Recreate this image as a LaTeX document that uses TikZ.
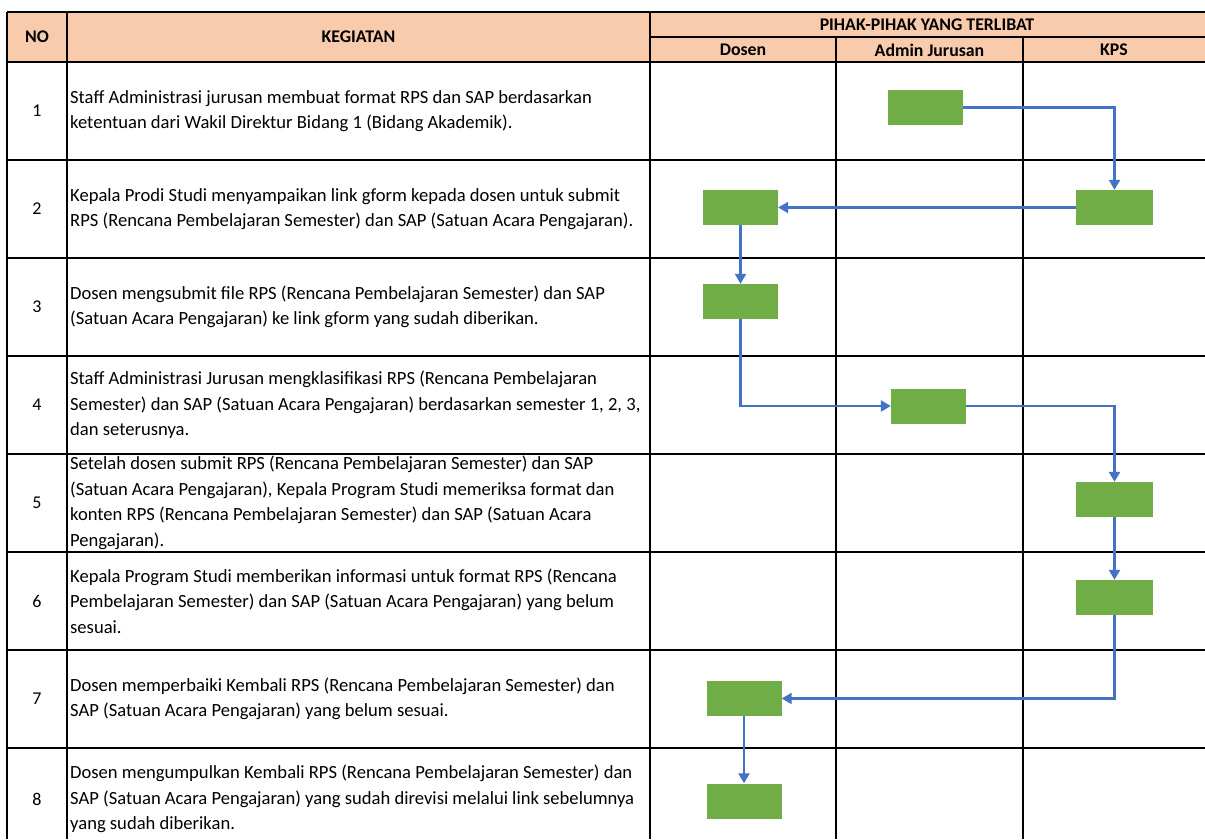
\documentclass[tikz,border=0pt]{standalone}
\usepackage{fontspec}
\setmainfont{Carlito}
\usetikzlibrary{arrows.meta}
\definecolor{hdr}{HTML}{F8CBAD}
\definecolor{boxg}{HTML}{70AD47}
\definecolor{arr}{HTML}{4472C4}
\tikzset{
  grid/.style={line width=1.6pt,black},
  hdrtxt/.style={font=\fontsize{17.8}{20}\selectfont\bfseries,inner sep=0pt},
  numtxt/.style={font=\fontsize{18}{20}\selectfont,inner sep=0pt},
  celltxt/.style={font=\fontsize{18.6}{25.5}\selectfont,inner sep=0pt,anchor=west,align=left},
  actbox/.style={fill=boxg,draw=none,minimum width=75pt,minimum height=35pt,inner sep=0pt},
  flow/.style={draw=arr,line width=2.3pt,-{Triangle[length=10pt,width=11pt]}},
}
\begin{document}
\begin{tikzpicture}[x=1pt,y=-1pt]
\useasboundingbox (0,0) rectangle (1205,839);
% header fill
\fill[hdr] (7,12) rectangle (1205,62);
% grid
\draw[grid] (7,12) -- (1205,12);
\draw[grid] (650,37) -- (1205,37);
\draw[grid] (7,62) -- (1205,62);
\foreach \y in {160,258,356,454,552,650,748} {\draw[grid] (7,\y) -- (1205,\y);}
\draw[grid] (7,12) -- (7,839);
\draw[grid] (67,12) -- (67,839);
\draw[grid] (650,12) -- (650,839);
\draw[grid] (836,37) -- (836,839);
\draw[grid] (1023,37) -- (1023,839);
% header texts
\node[hdrtxt] (hno) at (37,37) {NO};
\node[hdrtxt] (hkeg) at (358.5,37) {KEGIATAN};
\node[hdrtxt] (hpihak) at (927,24.5) {PIHAK-PIHAK YANG TERLIBAT};
\node[hdrtxt] (hdosen) at (743,50) {Dosen};
\node[hdrtxt] (hadmin) at (929.5,50) {Admin Jurusan};
\node[hdrtxt] (hkps) at (1114,50) {KPS};
% numbers
\node[numtxt] (n1) at (37,111) {1};
\node[numtxt] (n2) at (37,209) {2};
\node[numtxt] (n3) at (37,307) {3};
\node[numtxt] (n4) at (37,405) {4};
\node[numtxt] (n5) at (37,503) {5};
\node[numtxt] (n6) at (37,601) {6};
\node[numtxt] (n7) at (37,699) {7};
\node[numtxt] (n8) at (37,799) {8};
% activity texts
\node[celltxt] (t1) at (70,111) {Staff Administrasi jurusan membuat format RPS dan SAP berdasarkan\\ketentuan dari Wakil Direktur Bidang 1 (Bidang Akademik).};
\node[celltxt] (t2) at (70,209) {Kepala Prodi Studi menyampaikan link gform kepada dosen untuk submit\\RPS (Rencana Pembelajaran Semester) dan SAP (Satuan Acara Pengajaran).};
\node[celltxt] (t3) at (70,307) {Dosen mengsubmit file RPS (Rencana Pembelajaran Semester) dan SAP\\(Satuan Acara Pengajaran) ke link gform yang sudah diberikan.};
\node[celltxt] (t4) at (70,405) {Staff Administrasi Jurusan mengklasifikasi RPS (Rencana Pembelajaran\\Semester) dan SAP (Satuan Acara Pengajaran) berdasarkan semester 1, 2, 3,\\dan seterusnya.};
\node[celltxt] (t5) at (70,503) {Setelah dosen submit RPS (Rencana Pembelajaran Semester) dan SAP\\(Satuan Acara Pengajaran), Kepala Program Studi memeriksa format dan\\konten RPS (Rencana Pembelajaran Semester) dan SAP (Satuan Acara\\Pengajaran).};
\node[celltxt] (t6) at (70,601) {Kepala Program Studi memberikan informasi untuk format RPS (Rencana\\Pembelajaran Semester) dan SAP (Satuan Acara Pengajaran) yang belum\\sesuai.};
\node[celltxt] (t7) at (70,699) {Dosen memperbaiki Kembali RPS (Rencana Pembelajaran Semester) dan\\SAP (Satuan Acara Pengajaran) yang belum sesuai.};
\node[celltxt] (t8) at (70,799) {Dosen mengumpulkan Kembali RPS (Rencana Pembelajaran Semester) dan\\SAP (Satuan Acara Pengajaran) yang sudah direvisi melalui link sebelumnya\\yang sudah diberikan.};
% boxes
\node[actbox] (b1) at (925.5,107.5) {};
\node[actbox,minimum width=77pt] (b2) at (1114.5,207.5) {};
\node[actbox] (b3) at (740.5,207.5) {};
\node[actbox] (b4) at (740.5,301.5) {};
\node[actbox] (b5) at (928.5,406) {};
\node[actbox,minimum width=77pt] (b6) at (1114.5,499.5) {};
\node[actbox,minimum width=77pt] (b7) at (1114.5,597.5) {};
\node[actbox] (b8) at (744,698.5) {};
\node[actbox] (b9) at (744,801) {};
% connectors
\draw[flow] (b1.east) -| (b2.north);
\draw[flow] (b2.west) -- (b3.east);
\draw[flow] (b3.south) -- (b4.north);
\draw[flow] (b4.south) |- (b5.west);
\draw[flow] (b5.east) -| (b6.north);
\draw[flow] (b6.south) -- (b7.north);
\draw[flow] (b7.south) |- (b8.east);
\draw[flow] (b8.south) -- (b9.north);
\end{tikzpicture}
\end{document}
